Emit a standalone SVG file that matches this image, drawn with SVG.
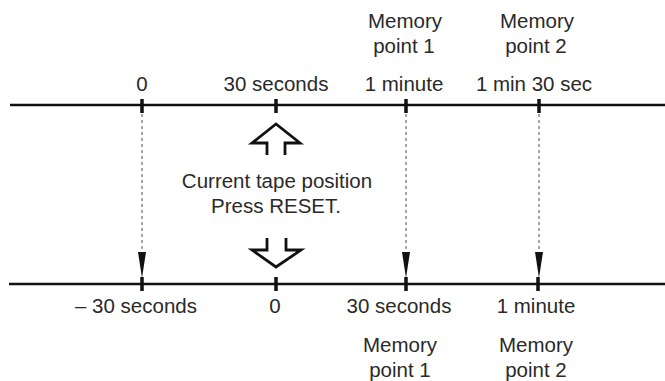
<svg xmlns="http://www.w3.org/2000/svg" width="665" height="381" viewBox="0 0 665 381">
<style>
text{font-family:"Liberation Sans",Arial,sans-serif;font-size:20.5px;fill:#2a2a2a;text-anchor:middle}
.axis{stroke:#111;stroke-width:2.6;fill:none}
.tick{stroke:#111;stroke-width:3.5}
.dash{stroke:#777;stroke-width:1.3;stroke-dasharray:3 3;fill:none}
.big{fill:none;stroke:#111;stroke-width:2.8;stroke-linejoin:miter}
</style>
<defs>
<marker id="wedge" viewBox="0 0 26 8" refX="0" refY="4" markerWidth="26" markerHeight="8" markerUnits="userSpaceOnUse" orient="auto">
<path d="M0,0 L26,4 L0,8 z" fill="#111"/>
</marker>
</defs>
<rect width="665" height="381" fill="#fff"/>
<g id="axis-top">
<line class="axis" x1="10" y1="105" x2="665" y2="105"/>
<line class="tick" x1="142" y1="99" x2="142" y2="113"/>
<line class="tick" x1="276" y1="99" x2="276" y2="113"/>
<line class="tick" x1="406" y1="99" x2="406" y2="113"/>
<line class="tick" x1="539" y1="99" x2="539" y2="113"/>
<text x="142" y="91">0</text>
<text x="276" y="91">30 seconds</text>
<text x="404" y="91">1 minute</text>
<text x="534" y="91">1 min 30 sec</text>
<text x="405" y="28">Memory</text>
<text x="404" y="53">point 1</text>
<text x="537" y="28">Memory</text>
<text x="536" y="53">point 2</text>
</g>
<g id="axis-bottom">
<line class="axis" x1="9" y1="284" x2="665" y2="284"/>
<line class="tick" x1="142" y1="277" x2="142" y2="291"/>
<line class="tick" x1="276" y1="277" x2="276" y2="291"/>
<line class="tick" x1="406" y1="277" x2="406" y2="291"/>
<line class="tick" x1="538" y1="277" x2="538" y2="291"/>
<text x="75" y="313" style="text-anchor:start">– 30 seconds</text>
<text x="275" y="313">0</text>
<text x="399" y="313">30 seconds</text>
<text x="536" y="313">1 minute</text>
<text x="400" y="352">Memory</text>
<text x="400" y="377">point 1</text>
<text x="536" y="352">Memory</text>
<text x="536" y="377">point 2</text>
</g>
<g id="current-position">
<path class="big" d="M267,155 L267,143 L252,143 L276,124 L300,143 L285,143 L285,155"/>
<text x="277" y="188">Current tape position</text>
<text x="276" y="213">Press RESET.</text>
<path class="big" d="M267,238 L267,250 L252,250 L276,267 L301,250 L286,250 L286,238"/>
</g>
<g id="connectors">
<line class="dash" x1="142" y1="114" x2="142" y2="252" marker-end="url(#wedge)"/>
<line class="dash" x1="406" y1="114" x2="406" y2="252" marker-end="url(#wedge)"/>
<line class="dash" x1="539" y1="114" x2="539" y2="252" marker-end="url(#wedge)"/>
</g>
</svg>
